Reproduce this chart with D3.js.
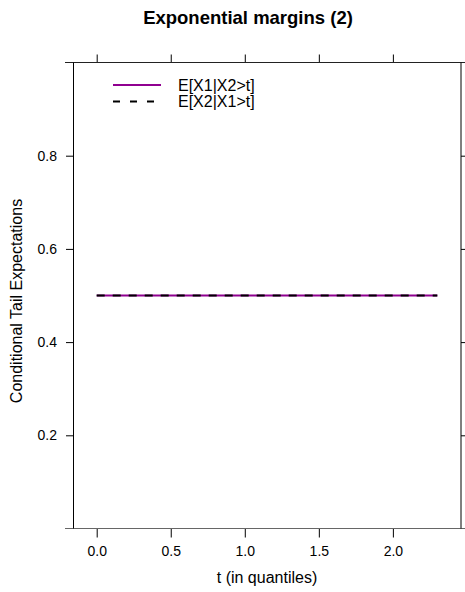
<!DOCTYPE html>
<html>
<head>
<meta charset="utf-8">
<script src="https://cdn.jsdelivr.net/npm/d3@7"></script>
<style>
  body { margin: 0; background: #fff; }
  text { font-family: "Liberation Sans", Arial, sans-serif; }
</style>
</head>
<body>
<div id="chart"></div>
<script>
// t grid (in quantiles) and the two conditional tail expectations
var tValues = [0.0, 0.1, 0.2, 0.3, 0.4, 0.5, 0.6, 0.7, 0.8, 0.9, 1.0, 1.1,
               1.2, 1.3, 1.4, 1.5, 1.6, 1.7, 1.8, 1.9, 2.0, 2.1, 2.2, 2.3];
var ex1GivenX2 = [0.5, 0.5, 0.5, 0.5, 0.5, 0.5, 0.5, 0.5, 0.5, 0.5, 0.5, 0.5,
                  0.5, 0.5, 0.5, 0.5, 0.5, 0.5, 0.5, 0.5, 0.5, 0.5, 0.5, 0.5];
var ex2GivenX1 = [0.5, 0.5, 0.5, 0.5, 0.5, 0.5, 0.5, 0.5, 0.5, 0.5, 0.5, 0.5,
                  0.5, 0.5, 0.5, 0.5, 0.5, 0.5, 0.5, 0.5, 0.5, 0.5, 0.5, 0.5];
var seriesNames = ['E[X1|X2>t]', 'E[X2|X1>t]'];
var xTicks = [0.0, 0.5, 1.0, 1.5, 2.0];
var yTicks = [0.2, 0.4, 0.6, 0.8];

var width = 465, height = 592;
// panel edges (note: "top" is reserved on window, so prefix these)
var pLeft = 73, pRight = 461, pTop = 62.5, pBottom = 528.5;

var svg = d3.select('#chart').append('svg')
            .attr('width', width)
            .attr('height', height);

var x = d3.scaleLinear().domain([-0.16, 2.46]).range([pLeft, pRight]);
var y = d3.scaleLinear().domain([0, 1]).range([pBottom, pTop]);

// title
svg.append('text')
   .attr('x', 248).attr('y', 24)
   .attr('text-anchor', 'middle')
   .style('font-size', '18.5px').style('font-weight', 'bold')
   .text('Exponential margins (2)');

// axes (lattice style: ticks outside on all four sides, labels bottom/left)
var fmt = d3.format('.1f');
svg.append('g')
   .attr('transform', 'translate(0,' + pBottom + ')')
   .call(d3.axisBottom(x).tickValues(xTicks).tickSize(9).tickPadding(9).tickFormat(fmt));
svg.append('g')
   .attr('transform', 'translate(0,' + pTop + ')')
   .call(d3.axisTop(x).tickValues(xTicks).tickSize(8).tickFormat(''));
svg.append('g')
   .attr('transform', 'translate(' + pLeft + ',0)')
   .call(d3.axisLeft(y).tickValues(yTicks).tickSize(7).tickPadding(9).tickFormat(fmt));
svg.append('g')
   .attr('transform', 'translate(' + pRight + ',0)')
   .call(d3.axisRight(y).tickValues(yTicks).tickSize(5).tickFormat(''));

svg.selectAll('.domain').remove();
svg.selectAll('.tick line').attr('stroke', '#000');
svg.selectAll('.tick text')
   .style('font-size', '14px').attr('fill', '#000')
   .style('font-family', '"Liberation Sans", Arial, sans-serif');

// panel frame
var frame = svg.append('g');
frame.append('line').attr('x1', 65).attr('x2', 465).attr('y1', pTop).attr('y2', pTop)
     .attr('stroke', '#222');
frame.append('line').attr('x1', 65).attr('x2', 465).attr('y1', pBottom).attr('y2', pBottom)
     .attr('stroke', '#666');
frame.append('line').attr('x1', pLeft + 0.5).attr('x2', pLeft + 0.5).attr('y1', pTop).attr('y2', pBottom)
     .attr('stroke', '#000');
frame.append('line').attr('x1', pRight).attr('x2', pRight).attr('y1', pTop).attr('y2', pBottom)
     .attr('stroke', '#000');

// axis labels
svg.append('text')
   .attr('x', 267).attr('y', 583)
   .attr('text-anchor', 'middle')
   .style('font-size', '16px')
   .text('t (in quantiles)');
svg.append('text')
   .attr('transform', 'translate(22,' + 301 + ') rotate(-90)')
   .attr('text-anchor', 'middle')
   .style('font-size', '16px')
   .text('Conditional Tail Expectations');

// data lines
var line = d3.line()
             .x(function(d) { return x(d[0]); })
             .y(function(d) { return y(d[1]); });

var styles = [
  { color: '#900090', dash: null },
  { color: '#000', dash: '8,8' }
];
var data = [d3.zip(tValues, ex1GivenX2), d3.zip(tValues, ex2GivenX1)];

svg.append('g').selectAll('path')
   .data(data)
   .enter().append('path')
   .attr('d', line)
   .attr('fill', 'none')
   .attr('stroke', function(_, i) { return styles[i].color; })
   .attr('stroke-width', 2)
   .attr('stroke-dasharray', function(_, i) { return styles[i].dash; });

// legend
var legend = svg.append('g');
seriesNames.forEach(function(name, i) {
  var ly = 85 + i * 16.5;
  legend.append('line')
        .attr('x1', 113).attr('x2', 161).attr('y1', ly).attr('y2', ly)
        .attr('stroke', styles[i].color).attr('stroke-width', 2)
        .attr('stroke-dasharray', styles[i].dash ? '7,10' : null);
  legend.append('text')
        .attr('x', 178).attr('y', ly + 5.5)
        .style('font-size', '16px')
        .text(name);
});
</script>
</body>
</html>
